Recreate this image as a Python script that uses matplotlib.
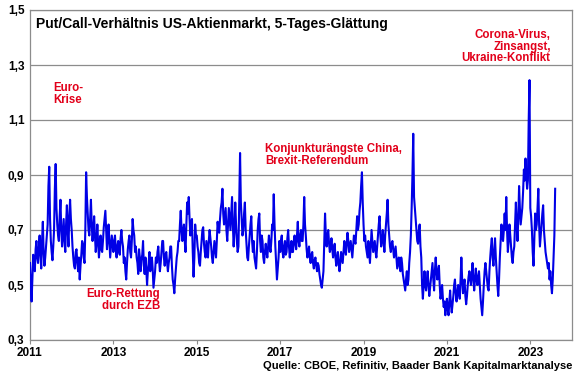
"""Put/Call-Verhaeltnis US-Aktienmarkt, 5-Tages-Glaettung."""
import numpy as np
import matplotlib
matplotlib.use('Agg')
import matplotlib.pyplot as plt
from matplotlib.ticker import FuncFormatter

plt.rcParams['font.family'] = ['Liberation Sans', 'DejaVu Sans']

# weekly readings (52 per year)
v2011 = [0.58, 0.50, 0.44, 0.52, 0.61, 0.57, 0.55, 0.63, 0.66, 0.60, 0.58, 0.64, 0.68,
         0.61, 0.56, 0.66, 0.73, 0.62, 0.57, 0.60, 0.64, 0.68, 0.72, 0.86, 0.93, 0.74,
         0.66, 0.62, 0.59, 0.64, 0.70, 0.85, 0.94, 0.78, 0.72, 0.68, 0.66, 0.75, 0.81,
         0.70, 0.64, 0.69, 0.74, 0.66, 0.62, 0.72, 0.79, 0.70, 0.64, 0.75, 0.81, 0.74]
v2012 = [0.70, 0.64, 0.60, 0.57, 0.56, 0.62, 0.63, 0.58, 0.55, 0.60, 0.52, 0.57, 0.61,
         0.66, 0.65, 0.60, 0.58, 0.70, 0.91, 0.82, 0.76, 0.70, 0.68, 0.74, 0.81, 0.72,
         0.66, 0.70, 0.75, 0.68, 0.62, 0.66, 0.72, 0.65, 0.60, 0.64, 0.68, 0.63, 0.62,
         0.66, 0.71, 0.74, 0.77, 0.70, 0.63, 0.67, 0.72, 0.66, 0.60, 0.64, 0.68, 0.65]
v2013 = [0.62, 0.66, 0.68, 0.63, 0.60, 0.64, 0.66, 0.62, 0.61, 0.67, 0.70, 0.66, 0.64,
         0.58, 0.60, 0.55, 0.52, 0.58, 0.63, 0.66, 0.68, 0.62, 0.60, 0.66, 0.74, 0.70,
         0.68, 0.62, 0.64, 0.60, 0.58, 0.54, 0.63, 0.60, 0.55, 0.59, 0.61, 0.66, 0.57,
         0.54, 0.60, 0.56, 0.50, 0.55, 0.58, 0.62, 0.55, 0.58, 0.60, 0.56, 0.49, 0.52]
v2014 = [0.55, 0.60, 0.58, 0.62, 0.64, 0.59, 0.55, 0.58, 0.62, 0.66, 0.66, 0.60, 0.57,
         0.61, 0.62, 0.58, 0.55, 0.58, 0.60, 0.64, 0.64, 0.57, 0.52, 0.50, 0.47, 0.52,
         0.56, 0.60, 0.62, 0.66, 0.66, 0.72, 0.77, 0.70, 0.66, 0.70, 0.72, 0.66, 0.62,
         0.72, 0.80, 0.76, 0.82, 0.74, 0.68, 0.72, 0.74, 0.62, 0.53, 0.60, 0.72, 0.68]
v2015 = [0.68, 0.64, 0.62, 0.58, 0.57, 0.62, 0.66, 0.70, 0.71, 0.65, 0.62, 0.60, 0.66,
         0.63, 0.60, 0.66, 0.70, 0.67, 0.64, 0.60, 0.58, 0.62, 0.66, 0.63, 0.60, 0.66,
         0.73, 0.70, 0.69, 0.74, 0.78, 0.80, 0.85, 0.76, 0.72, 0.75, 0.78, 0.70, 0.66,
         0.72, 0.78, 0.74, 0.70, 0.76, 0.82, 0.72, 0.64, 0.70, 0.80, 0.72, 0.66, 0.62]
v2016 = [0.64, 0.80, 0.98, 0.80, 0.74, 0.68, 0.70, 0.76, 0.80, 0.70, 0.65, 0.60, 0.59,
         0.64, 0.68, 0.72, 0.75, 0.66, 0.62, 0.66, 0.60, 0.58, 0.56, 0.62, 0.70, 0.74,
         0.76, 0.66, 0.62, 0.68, 0.66, 0.60, 0.58, 0.62, 0.65, 0.62, 0.60, 0.64, 0.68,
         0.64, 0.62, 0.66, 0.72, 0.70, 0.83, 0.72, 0.64, 0.58, 0.52, 0.56, 0.60, 0.66]
v2017 = [0.62, 0.66, 0.68, 0.62, 0.60, 0.64, 0.66, 0.61, 0.62, 0.67, 0.70, 0.64, 0.60,
         0.63, 0.66, 0.62, 0.62, 0.66, 0.68, 0.65, 0.63, 0.68, 0.73, 0.66, 0.64, 0.68,
         0.70, 0.66, 0.66, 0.72, 0.82, 0.72, 0.68, 0.63, 0.60, 0.62, 0.64, 0.60, 0.58,
         0.61, 0.62, 0.58, 0.56, 0.59, 0.60, 0.57, 0.55, 0.58, 0.57, 0.54, 0.52, 0.50]
v2018 = [0.49, 0.52, 0.55, 0.66, 0.76, 0.68, 0.64, 0.68, 0.70, 0.65, 0.62, 0.64, 0.67,
         0.63, 0.60, 0.63, 0.65, 0.60, 0.57, 0.60, 0.62, 0.58, 0.55, 0.58, 0.62, 0.60,
         0.58, 0.62, 0.66, 0.63, 0.61, 0.65, 0.69, 0.66, 0.62, 0.64, 0.66, 0.63, 0.60,
         0.64, 0.68, 0.66, 0.65, 0.70, 0.75, 0.70, 0.72, 0.77, 0.80, 0.86, 0.91, 0.80]
v2019 = [0.72, 0.66, 0.68, 0.64, 0.62, 0.60, 0.66, 0.62, 0.58, 0.64, 0.70, 0.66, 0.62,
         0.64, 0.66, 0.62, 0.60, 0.64, 0.68, 0.72, 0.75, 0.68, 0.64, 0.66, 0.70, 0.66,
         0.62, 0.68, 0.72, 0.76, 0.81, 0.72, 0.68, 0.64, 0.62, 0.65, 0.66, 0.63, 0.60,
         0.62, 0.64, 0.60, 0.56, 0.58, 0.60, 0.57, 0.55, 0.60, 0.58, 0.54, 0.52, 0.50]
v2020 = [0.48, 0.52, 0.55, 0.50, 0.52, 0.58, 0.62, 0.68, 0.78, 0.90, 1.05, 0.82, 0.78,
         0.74, 0.70, 0.66, 0.65, 0.70, 0.72, 0.64, 0.60, 0.50, 0.45, 0.50, 0.55, 0.50,
         0.48, 0.52, 0.55, 0.50, 0.46, 0.49, 0.52, 0.55, 0.58, 0.52, 0.48, 0.55, 0.60,
         0.55, 0.52, 0.55, 0.57, 0.50, 0.45, 0.47, 0.50, 0.45, 0.42, 0.44, 0.39, 0.43]
v2021 = [0.45, 0.41, 0.39, 0.44, 0.48, 0.43, 0.40, 0.43, 0.46, 0.50, 0.52, 0.47, 0.44,
         0.47, 0.50, 0.47, 0.45, 0.52, 0.60, 0.52, 0.47, 0.50, 0.52, 0.46, 0.43, 0.46,
         0.50, 0.53, 0.55, 0.52, 0.50, 0.54, 0.58, 0.52, 0.48, 0.52, 0.56, 0.52, 0.50,
         0.53, 0.55, 0.50, 0.45, 0.42, 0.39, 0.44, 0.50, 0.55, 0.58, 0.55, 0.52, 0.49]
v2022 = [0.48, 0.55, 0.60, 0.64, 0.67, 0.60, 0.57, 0.62, 0.67, 0.60, 0.55, 0.50, 0.46,
         0.52, 0.60, 0.66, 0.72, 0.68, 0.66, 0.70, 0.76, 0.70, 0.82, 0.70, 0.62, 0.66,
         0.72, 0.68, 0.64, 0.60, 0.58, 0.62, 0.64, 0.72, 0.80, 0.72, 0.66, 0.74, 0.86,
         0.78, 0.72, 0.75, 0.78, 0.84, 0.92, 0.88, 0.96, 0.90, 0.85, 0.88, 1.10, 1.245]
v2023 = [0.78, 0.75, 0.70, 0.62, 0.57, 0.66, 0.76, 0.70, 0.72, 0.78, 0.85, 0.72, 0.64,
         0.68, 0.72, 0.76, 0.79, 0.70, 0.66, 0.62, 0.60, 0.58, 0.56, 0.58, 0.52, 0.55,
         0.50, 0.47, 0.52, 0.60, 0.68, 0.85]

years = list(range(2011, 2024))
series = [v2011, v2012, v2013, v2014, v2015, v2016, v2017, v2018, v2019, v2020,
          v2021, v2022, v2023]

x_ticks = [2011, 2013, 2015, 2017, 2019, 2021, 2023]
y_ticks = [0.3, 0.5, 0.7, 0.9, 1.1, 1.3, 1.5]

red = '#e2001a'
grey = '#8c8c8c'

x = np.concatenate([yr + np.arange(len(v)) / 52.0 for yr, v in zip(years, series)])
y = np.concatenate([np.array(v) for v in series])

fig = plt.figure(figsize=(5.8, 3.75), dpi=100)
fig.patch.set_facecolor('white')
ax = fig.add_axes([30 / 580, 35 / 375, 542 / 580, 330 / 375])

ax.plot(x, y, color='#0000e6', lw=1.5, zorder=3)

ax.set_xlim(2011, 2024)
ax.set_ylim(0.3, 1.5)
ax.set_xticks(x_ticks)
ax.set_yticks(y_ticks)
ax.yaxis.set_major_formatter(FuncFormatter(lambda v, p: f'{v:.1f}'.replace('.', ',')))
ax.grid(axis='y', color=grey, lw=0.9)
ax.set_axisbelow(True)
for s in ax.spines.values():
    s.set_color(grey)
    s.set_linewidth(0.9)
ax.tick_params(axis='x', length=3, color=grey, pad=2, labelsize=8.5)
ax.tick_params(axis='y', length=0, pad=4, labelsize=8.5)
for lab in ax.get_xticklabels() + ax.get_yticklabels():
    lab.set_fontweight('bold')

ax.text(2011.15, 1.475, 'Put/Call-Verhältnis US-Aktienmarkt, 5-Tages-Glättung',
        fontsize=10, fontweight='bold', va='top', ha='left')

ax.text(2011.55, 1.196, 'Euro-\nKrise', color=red, fontsize=8.3, fontweight='bold',
        va='center', ha='left', linespacing=1.0)
ax.text(2014.12, 0.447, 'Euro-Rettung\ndurch EZB', color=red, fontsize=8.3,
        fontweight='bold', va='center', ha='right', linespacing=1.0)
ax.text(2016.64, 0.971, 'Konjunkturängste China,\nBrexit-Referendum', color=red,
        fontsize=8.3, fontweight='bold', va='center', ha='left', linespacing=1.0)
ax.text(2023.49, 1.367, 'Corona-Virus,\nZinsangst,\nUkraine-Konflikt', color=red,
        fontsize=8.3, fontweight='bold', va='center', ha='right', linespacing=0.95)

fig.text(572 / 580, 1 - 366 / 375, 'Quelle: CBOE, Refinitiv, Baader Bank Kapitalmarktanalyse',
         fontsize=8, fontweight='bold', ha='right', va='center')

plt.savefig('out.png', dpi=100)
